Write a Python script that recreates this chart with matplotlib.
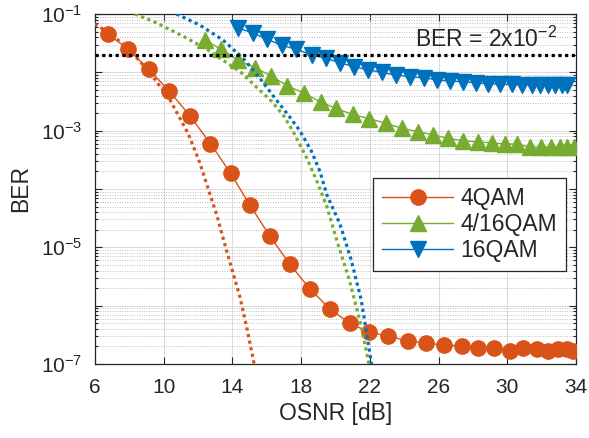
import matplotlib
matplotlib.use("Agg")
import matplotlib.pyplot as plt
import numpy as np

plt.rcParams['font.family'] = ['Liberation Sans', 'DejaVu Sans']
plt.rcParams['mathtext.fontset'] = 'custom'
plt.rcParams['mathtext.rm'] = 'Liberation Sans'
plt.rcParams['mathtext.default'] = 'regular'

# measured BER curves
osnr_4qam = [6.77, 7.94, 9.14, 10.33, 11.53, 12.73, 13.9, 15.02, 16.19, 17.35, 18.51, 19.68,
             20.84, 21.97, 23.07, 24.2, 25.27, 26.33, 27.34, 28.31, 29.22, 30.16, 30.93,
             31.71, 32.39, 32.97, 33.45, 33.84]
ber_4qam = [4.5e-2, 2.5e-2, 1.12e-2, 4.8e-3, 1.8e-3, 6.0e-4, 1.86e-4, 5.3e-5, 1.55e-5, 5.1e-6,
            1.95e-6, 8.7e-7, 5.0e-7, 3.5e-7, 3.0e-7, 2.5e-7, 2.3e-7, 2.1e-7, 2.05e-7, 1.85e-7,
            1.85e-7, 1.7e-7, 1.9e-7, 1.8e-7, 1.7e-7, 1.8e-7, 1.8e-7, 1.7e-7]

osnr_4_16qam = [12.40, 13.32, 14.34, 15.31, 16.23, 17.19, 18.17, 19.14, 20.03, 21.0, 21.97,
                22.94, 23.85, 24.82, 25.66, 26.56, 27.44, 28.28, 29.09, 29.86, 30.58, 31.32,
                31.96, 32.53, 33.07, 33.49, 33.88]
ber_4_16qam = [3.6e-2, 2.5e-2, 1.63e-2, 1.2e-2, 8.8e-3, 5.9e-3, 4.4e-3, 3.1e-3, 2.4e-3, 1.9e-3,
               1.6e-3, 1.34e-3, 1.1e-3, 9.6e-4, 8.5e-4, 7.4e-4, 6.7e-4, 6.4e-4, 6.2e-4, 5.9e-4,
               5.9e-4, 5.2e-4, 5.3e-4, 5.3e-4, 5.2e-4, 5.2e-4, 5.2e-4]

osnr_16qam = [14.31, 15.21, 16.03, 16.87, 17.70, 18.61, 19.45, 20.26, 21.09, 21.91, 22.69,
              23.50, 24.34, 25.15, 25.92, 26.66, 27.44, 28.18, 28.89, 29.57, 30.25, 30.84,
              31.42, 31.90, 32.39, 32.78, 33.16, 33.46]
ber_16qam = [5.8e-2, 4.7e-2, 3.7e-2, 2.9e-2, 2.5e-2, 2.0e-2, 1.74e-2, 1.46e-2, 1.25e-2, 1.1e-2,
             1.0e-2, 9.0e-3, 8.4e-3, 8.1e-3, 7.4e-3, 7.1e-3, 6.9e-3, 6.6e-3, 6.4e-3, 6.3e-3,
             6.2e-3, 6.1e-3, 6.1e-3, 6.1e-3, 6.0e-3, 6.0e-3, 6.0e-3, 6.1e-3]

# theoretical curves (log10 BER)
theo_osnr_4qam = [6.0, 7.0, 7.94, 9.16, 10.37, 11.43, 12.11, 12.6, 13.1, 13.6, 14.05, 14.44,
                  14.83, 15.27]
theo_log_4qam = [-1.17, -1.36, -1.59, -1.99, -2.47, -3.05, -3.55, -4.0, -4.45, -4.99, -5.45,
                 -5.85, -6.36, -7.0]
theo_osnr_4_16qam = [8.33, 9.5, 11.0, 12.5, 13.5, 14.5, 15.5, 16.3, 17.0, 17.6, 18.3, 18.9,
                     19.5, 20.1, 20.8, 21.5, 21.95]
theo_log_4_16qam = [-1.0, -1.14, -1.36, -1.60, -1.80, -2.0, -2.28, -2.50, -2.75, -3.05, -3.45,
                    -3.85, -4.3, -4.9, -5.55, -6.35, -7.0]
theo_osnr_16qam = [10.75, 12.11, 13.47, 14.63, 15.6, 16.5, 17.3, 17.93, 18.6, 19.1, 19.5,
                   20.26, 20.9, 21.5, 21.72, 22.1]
theo_log_16qam = [-1.0, -1.19, -1.45, -1.76, -2.1, -2.45, -2.75, -3.0, -3.35, -3.7, -4.1, -4.6,
                  -5.2, -5.9, -6.3, -7.0]

ber_limit = 2e-2
xticks = [6, 10, 14, 18, 22, 26, 30, 34]
yticks = [1e-7, 1e-6, 1e-5, 1e-4, 1e-3, 1e-2, 1e-1]
ytick_labels = [r'$10^{-7}$', '', r'$10^{-5}$', '', r'$10^{-3}$', '', r'$10^{-1}$']

c_or = '#D95319'
c_gr = '#77AC30'
c_bl = '#0072BD'
dots = (0, (1, 1.1))

fig = plt.figure(figsize=(5.89, 4.38), dpi=100)
ax = fig.add_axes([0.161, 0.169, 0.817, 0.799])

ax.plot(osnr_4qam, ber_4qam, color=c_or, lw=1.0, marker='o', ms=11, mec=c_or, mfc=c_or,
        label='4QAM', zorder=3)
ax.plot(osnr_4_16qam, ber_4_16qam, color=c_gr, lw=1.0, marker='^', ms=11, mec=c_gr, mfc=c_gr,
        label='4/16QAM', zorder=3)
ax.plot(osnr_16qam, ber_16qam, color=c_bl, lw=1.0, marker='v', ms=11, mec=c_bl, mfc=c_bl,
        label='16QAM', zorder=3)

ax.plot(theo_osnr_4qam, 10 ** np.array(theo_log_4qam), color=c_or, ls=dots, lw=2.3, zorder=4)
ax.plot(theo_osnr_4_16qam, 10 ** np.array(theo_log_4_16qam), color=c_gr, ls=dots, lw=2.3, zorder=4)
ax.plot(theo_osnr_16qam, 10 ** np.array(theo_log_16qam), color=c_bl, ls=dots, lw=2.3, zorder=4)

ax.axhline(ber_limit, color='k', ls=dots, lw=2.3, zorder=4)
ax.text(0.665, 0.907, r'BER = 2x10$^{-2}$', transform=ax.transAxes, fontsize=16.5,
        va='baseline', ha='left', color='#262626')

ax.set_yscale('log')
ax.set_xlim(6, 34)
ax.set_ylim(1e-7, 1e-1)
ax.set_xticks(xticks)
ax.set_yticks(yticks)
ax.set_yticklabels(ytick_labels)
ax.yaxis.set_minor_locator(matplotlib.ticker.LogLocator(base=10, subs=np.arange(2, 10), numticks=20))
ax.yaxis.set_minor_formatter(matplotlib.ticker.NullFormatter())

ax.grid(True, which='major', color='#DCDCDC', lw=0.8, ls='-', zorder=0)
ax.grid(True, which='minor', axis='y', color='#BEBEBE', lw=0.7, ls=(0, (1, 1.5)), zorder=0)
ax.set_axisbelow(True)

ax.tick_params(which='both', direction='in', top=True, right=True, colors='#262626',
               labelsize=15, width=0.8)
ax.tick_params(which='major', length=5)
ax.tick_params(which='minor', length=2.5)
ax.tick_params(axis='x', pad=10)
ax.tick_params(axis='y', pad=9)
for s in ax.spines.values():
    s.set_color('#262626')
    s.set_linewidth(0.9)

ax.set_xlabel('OSNR [dB]', fontsize=16.5, color='#262626', labelpad=4)
ax.set_ylabel('BER', fontsize=16.5, color='#262626')
ax.yaxis.set_label_coords(-0.131, 0.5)

leg = ax.legend(loc='upper right', bbox_to_anchor=(0.979, 0.531), fontsize=16.5,
                fancybox=False, edgecolor='#262626', framealpha=1, handlelength=3.1,
                handletextpad=0.3, labelspacing=0.12, borderpad=0.4, borderaxespad=0)
leg.get_frame().set_linewidth(0.9)
for t in leg.get_texts():
    t.set_color('#262626')

fig.savefig('out.png', dpi=100)
